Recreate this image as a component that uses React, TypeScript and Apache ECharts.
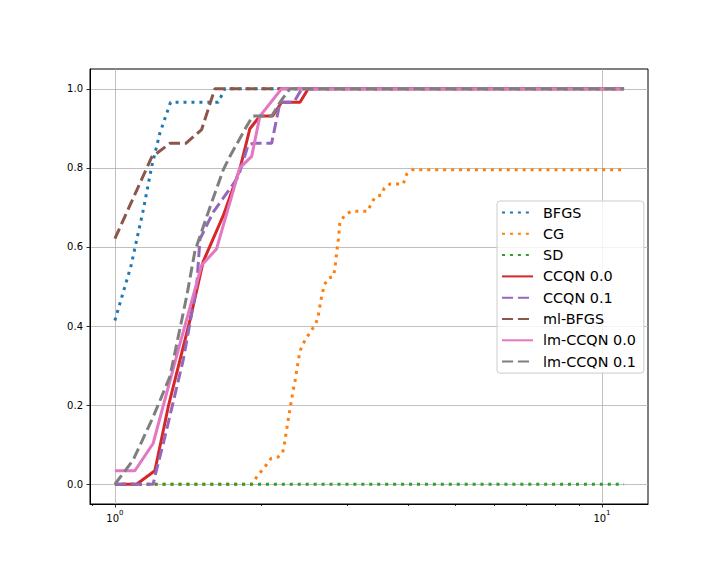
import React, { useEffect, useRef } from "react";
import * as echarts from "echarts";

// Performance profiles: tau (ratio) and rho (fraction of problems)
const bfgsTau = [1.0, 1.079, 1.142, 1.19, 1.237, 1.301, 1.63, 1.682, 11.1];
const bfgsRho = [0.414, 0.552, 0.69, 0.803, 0.888, 0.966, 0.966, 1.0, 1.0];

const cgTau = [1.0, 1.909, 1.954, 2.001, 2.049, 2.091, 2.164, 2.21, 2.227, 2.252, 2.28, 2.295, 2.323, 2.342, 2.368, 2.399, 2.436, 2.483, 2.535, 2.587, 2.615, 2.649, 2.691, 2.742, 2.808, 2.83, 2.853, 2.88, 2.897, 2.98, 3.062, 3.303, 3.355, 3.419, 3.529, 3.573, 3.67, 3.908, 3.972, 4.078, 11.1];
const cgRho = [0, 0, 0.018, 0.034, 0.05, 0.065, 0.069, 0.08, 0.099, 0.138, 0.179, 0.2, 0.238, 0.259, 0.297, 0.337, 0.356, 0.373, 0.39, 0.407, 0.426, 0.466, 0.504, 0.521, 0.525, 0.546, 0.586, 0.625, 0.664, 0.683, 0.69, 0.69, 0.708, 0.726, 0.732, 0.749, 0.759, 0.759, 0.784, 0.795, 0.795];

const sdTau = [1.0, 11.1];
const sdRho = [0, 0];

const ccqn0Tau = [1.0, 1.108, 1.208, 1.287, 1.426, 1.518, 1.669, 1.805, 1.893, 1.985, 2.108, 2.199, 2.399, 2.494, 11.1];
const ccqn0Rho = [0, 0, 0.034, 0.196, 0.415, 0.563, 0.679, 0.797, 0.899, 0.931, 0.931, 0.966, 0.966, 1.0, 1.0];

const ccqn1Tau = [1.0, 1.198, 1.214, 1.267, 1.381, 1.472, 1.495, 1.592, 1.722, 1.792, 1.878, 1.923, 2.098, 2.183, 2.33, 2.42, 11.1];
const ccqn1Rho = [0, 0, 0.03, 0.12, 0.314, 0.5, 0.62, 0.688, 0.747, 0.778, 0.858, 0.862, 0.862, 0.966, 0.966, 1.0, 1.0];

const mlbfgsTau = [1.0, 1.19, 1.297, 1.399, 1.507, 1.604, 11.1];
const mlbfgsRho = [0.621, 0.827, 0.862, 0.862, 0.897, 1.0, 1.0];

const lm0Tau = [1.0, 1.099, 1.198, 1.349, 1.507, 1.617, 1.805, 1.909, 1.985, 2.199, 11.1];
const lm0Rho = [0.034, 0.034, 0.103, 0.339, 0.554, 0.595, 0.8, 0.829, 0.931, 1.0, 1.0];

const lm1Tau = [1.0, 1.09, 1.198, 1.297, 1.404, 1.46, 1.567, 1.669, 1.722, 1.864, 1.918, 2.098, 2.183, 2.287, 11.1];
const lm1Rho = [0, 0.061, 0.17, 0.272, 0.475, 0.59, 0.7, 0.795, 0.829, 0.905, 0.931, 0.931, 0.966, 1.0, 1.0];

const seriesNames = ["BFGS", "CG", "SD", "CCQN 0.0", "CCQN 0.1", "ml-BFGS", "lm-CCQN 0.0", "lm-CCQN 0.1"];
const seriesTau = [bfgsTau, cgTau, sdTau, ccqn0Tau, ccqn1Tau, mlbfgsTau, lm0Tau, lm1Tau];
const seriesRho = [bfgsRho, cgRho, sdRho, ccqn0Rho, ccqn1Rho, mlbfgsRho, lm0Rho, lm1Rho];
const seriesColors = ["#1f77b4", "#ff7f0e", "#2ca02c", "#d62728", "#9467bd", "#8c564b", "#e377c2", "#7f7f7f"];
const seriesDash = ["dotted", "dotted", "dotted", "solid", "dashed", "dashed", "solid", "dashed"];

const xMajorTicks = [1, 10];
const xMinorTicks = [0.9, 2, 3, 4, 5, 6, 7, 8, 9];
const yTicks = [0, 0.2, 0.4, 0.6, 0.8, 1.0];

const FONT = "DejaVu Sans";

function dashArray(kind: string): any {
  if (kind === "dotted") return [3, 4.95];
  if (kind === "dashed") return [11.1, 4.8];
  return "solid";
}

export default function App() {
  const ref = useRef<HTMLDivElement>(null);
  useEffect(() => {
    if (!ref.current) return;
    const chart = echarts.init(ref.current, null, { renderer: "svg" });
    const tickStyle = { color: "#000", width: 0.8 };
    const option: any = {
      animation: false,
      backgroundColor: "#fff",
      textStyle: { fontFamily: FONT },
      grid: {
        left: 90,
        right: 72,
        top: 69,
        bottom: 72,
        show: true,
        borderColor: "#000",
        borderWidth: 1,
        backgroundColor: "transparent",
      },
      xAxis: [
        {
          type: "log",
          logBase: 10,
          min: 0.889,
          max: 12.43,
          position: "bottom",
          axisLine: { show: true, onZero: false, lineStyle: { color: "#000", width: 1 } },
          axisTick: { show: true, customValues: xMajorTicks, length: 3.5, inside: false, lineStyle: tickStyle },
          axisLabel: {
            customValues: xMajorTicks,
            margin: 5,
            formatter: (v: number) => `{b|10}{s|${Math.round(Math.log10(v))}}`,
            rich: {
              b: { fontSize: 10, color: "#000", fontFamily: FONT, lineHeight: 14, verticalAlign: "bottom" },
              s: { fontSize: 7, color: "#000", fontFamily: FONT, lineHeight: 14, verticalAlign: "top" },
            },
          },
          splitLine: { show: true, lineStyle: { color: "#b0b0b0", width: 0.8 } },
          minorTick: { show: false },
        },
        {
          type: "log",
          logBase: 10,
          min: 0.889,
          max: 12.43,
          position: "bottom",
          axisLine: { show: false, onZero: false },
          axisTick: { show: true, customValues: xMinorTicks, length: 2, inside: false, lineStyle: tickStyle },
          axisLabel: { show: false },
          splitLine: { show: false },
        },
      ],
      yAxis: {
        type: "value",
        min: -0.05,
        max: 1.05,
        axisLine: { show: true, onZero: false, lineStyle: { color: "#000", width: 1 } },
        axisTick: { show: true, customValues: yTicks, length: 3.5, lineStyle: tickStyle },
        axisLabel: {
          customValues: yTicks,
          formatter: (v: number) => v.toFixed(1),
          fontSize: 10,
          color: "#000",
          fontFamily: FONT,
          margin: 7,
        },
        splitLine: { show: true, lineStyle: { color: "#b0b0b0", width: 0.8 } },
      },
      legend: {
        orient: "vertical",
        left: 497,
        top: 201,
        itemWidth: 31,
        itemHeight: 15,
        itemGap: 6.3,
        backgroundColor: "rgba(255,255,255,0.8)",
        borderColor: "#cccccc",
        borderWidth: 1,
        borderRadius: 3,
        padding: [4, 8, 4, 4],
        itemStyle: { opacity: 0, borderWidth: 0 },
        textStyle: { fontSize: 14.4, color: "#000", fontFamily: FONT, padding: [0, 0, 0, 5], lineHeight: 15 },
        data: seriesNames,
      },
      series: seriesNames.map((name, i) => ({
        name,
        type: "line",
        xAxisIndex: 0,
        showSymbol: false,
        symbol: "none",
        color: seriesColors[i],
        lineStyle: { color: seriesColors[i], width: 3, type: dashArray(seriesDash[i]), cap: "butt" },
        data: seriesTau[i].map((t, j) => [t, seriesRho[i][j]]),
      })),
    };
    chart.setOption(option);
    return () => chart.dispose();
  }, []);
  return <div ref={ref} style={{ position: "fixed", left: 0, top: 0, width: 720, height: 576 }} />;
}
